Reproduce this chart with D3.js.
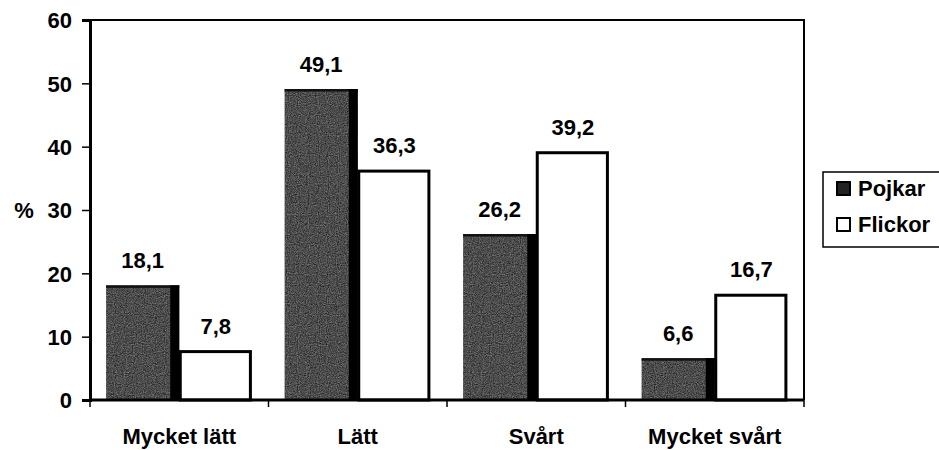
<!DOCTYPE html>
<html>
<head>
<meta charset="utf-8">
<script src="https://cdn.jsdelivr.net/npm/d3@7"></script>
<style>
  html, body { margin: 0; padding: 0; background: #fff; }
  svg { display: block; font-family: "Liberation Sans", Arial, sans-serif; font-weight: bold; }
</style>
</head>
<body>
<svg id="chart" width="939" height="450"></svg>
<script>
// Answer categories and percentages per group
const categories = ["Mycket lätt", "Lätt", "Svårt", "Mycket svårt"];
const seriesNames = ["Pojkar", "Flickor"];
const pojkar = [18.1, 49.1, 26.2, 6.6];
const flickor = [7.8, 36.3, 39.2, 16.7];
const yTicks = [0, 10, 20, 30, 40, 50, 60];

const svg = d3.select("#chart");
const margin = { left: 90, top: 20, right: 135, bottom: 50 };
const W = 939, H = 450;
const x0 = margin.left, x1 = W - margin.right, yTop = margin.top, yBot = H - margin.bottom;

const x = d3.scaleBand().domain(categories).range([x0, x1]).paddingInner(0).paddingOuter(0);
const xs = d3.scaleBand().domain(seriesNames).range([0, x.bandwidth()]).paddingInner(0).paddingOuter(0.22);
const y = d3.scaleLinear().domain([0, 60]).range([yBot, yTop]);

const fmt = v => String(v).replace(".", ",");

// grain for the dark bars
const defs = svg.append("defs");
const f = defs.append("filter").attr("id", "grain")
  .attr("x", 0).attr("y", 0).attr("width", 1).attr("height", 1)
  .attr("color-interpolation-filters", "sRGB");
f.append("feTurbulence").attr("type", "fractalNoise").attr("baseFrequency", 0.9).attr("numOctaves", 2).attr("seed", 3).attr("result", "n");
f.append("feColorMatrix").attr("in", "n").attr("type", "saturate").attr("values", 0).attr("result", "g");
f.append("feComponentTransfer").attr("in", "g").attr("result", "gg")
  .call(s => {
    s.append("feFuncR").attr("type", "linear").attr("slope", 0.7).attr("intercept", -0.05);
    s.append("feFuncG").attr("type", "linear").attr("slope", 0.7).attr("intercept", -0.05);
    s.append("feFuncB").attr("type", "linear").attr("slope", 0.7).attr("intercept", -0.05);
    s.append("feFuncA").attr("type", "table").attr("tableValues", "1 1");
  });
f.append("feComposite").attr("in", "gg").attr("in2", "SourceGraphic").attr("operator", "in");

// plot frame (top and right)
svg.append("path")
  .attr("d", `M${x0},${yTop}H${x1}V${yBot}`)
  .attr("fill", "none").attr("stroke", "#000").attr("stroke-width", 2);

const rows = categories.map((c, i) => ({ c, vals: [pojkar[i], flickor[i]] }));

const groups = svg.append("g").selectAll("g").data(rows).join("g")
  .attr("transform", d => `translate(${x(d.c)},0)`);

// Pojkar bars: dark grainy grey with a black shaded right edge
groups.append("rect")
  .attr("x", xs("Pojkar"))
  .attr("y", d => y(d.vals[0]))
  .attr("width", xs.bandwidth())
  .attr("height", d => yBot - y(d.vals[0]))
  .attr("fill", "#4e4e4e")
  .attr("filter", "url(#grain)");
groups.append("rect")
  .attr("x", xs("Pojkar"))
  .attr("y", d => y(d.vals[0]))
  .attr("width", xs.bandwidth())
  .attr("height", 2.5)
  .attr("fill", "#111");
groups.append("rect")
  .attr("x", xs("Pojkar") + xs.bandwidth() - 9)
  .attr("y", d => y(d.vals[0]))
  .attr("width", 9)
  .attr("height", d => yBot - y(d.vals[0]))
  .attr("fill", "#000");

// Flickor bars: white with black outline
groups.append("rect")
  .attr("x", xs("Flickor") + 1)
  .attr("y", d => y(d.vals[1]) + 1)
  .attr("width", xs.bandwidth() - 3)
  .attr("height", d => yBot - y(d.vals[1]) - 1)
  .attr("fill", "#fff")
  .attr("stroke", "#000").attr("stroke-width", 3);

// value labels
groups.selectAll("text.val").data(d => d.vals.map((v, j) => ({ v, s: seriesNames[j] })))
  .join("text").attr("class", "val")
  .attr("x", d => xs(d.s) + xs.bandwidth() / 2)
  .attr("y", d => y(d.v) - 17)
  .attr("text-anchor", "middle")
  .attr("font-size", 22)
  .text(d => fmt(d.v));

// y axis
const yAxis = svg.append("g").attr("transform", `translate(${x0},0)`)
  .call(d3.axisLeft(y).tickValues(yTicks).tickSize(8).tickPadding(10));
yAxis.select(".domain").attr("stroke-width", 3);
yAxis.selectAll(".tick line").attr("stroke-width", 1.5);
yAxis.selectAll("text").attr("font-size", 22).attr("font-family", null).attr("font-weight", "bold").attr("dy", "0.36em").attr("fill", "#000");

// x axis with ticks at category boundaries
const xAxis = svg.append("g").attr("transform", `translate(0,${yBot})`);
xAxis.append("line").attr("x1", x0).attr("x2", x1).attr("stroke", "#000").attr("stroke-width", 3);
const bounds = categories.map(c => x(c)).concat([x1]);
xAxis.selectAll("line.tk").data(bounds).join("line").attr("class", "tk")
  .attr("x1", d => d).attr("x2", d => d).attr("y1", 0).attr("y2", 7)
  .attr("stroke", "#000").attr("stroke-width", 1.5);
xAxis.selectAll("text").data(categories).join("text")
  .attr("x", d => x(d) + x.bandwidth() / 2)
  .attr("y", 44)
  .attr("text-anchor", "middle")
  .attr("font-size", 22)
  .text(d => d);

// y axis title
svg.append("text").attr("x", 24).attr("y", y(30)).attr("dy", "0.36em")
  .attr("text-anchor", "middle").attr("font-size", 22).text("%");

// legend
const lg = svg.append("g").attr("transform", "translate(823,172)");
lg.append("rect").attr("width", 125).attr("height", 75).attr("fill", "#fff").attr("stroke", "#000").attr("stroke-width", 1.5);
const legendItems = [
  { name: seriesNames[0], fill: "#222" },
  { name: seriesNames[1], fill: "#fff" }
];
const li = lg.selectAll("g").data(legendItems).join("g")
  .attr("transform", (d, i) => `translate(14,${10 + i * 36})`);
li.append("rect").attr("width", 13).attr("height", 13)
  .attr("fill", d => d.fill).attr("stroke", "#000").attr("stroke-width", 2);
li.append("text").attr("x", 21).attr("y", 14).attr("font-size", 22).text(d => d.name);
</script>
</body>
</html>
